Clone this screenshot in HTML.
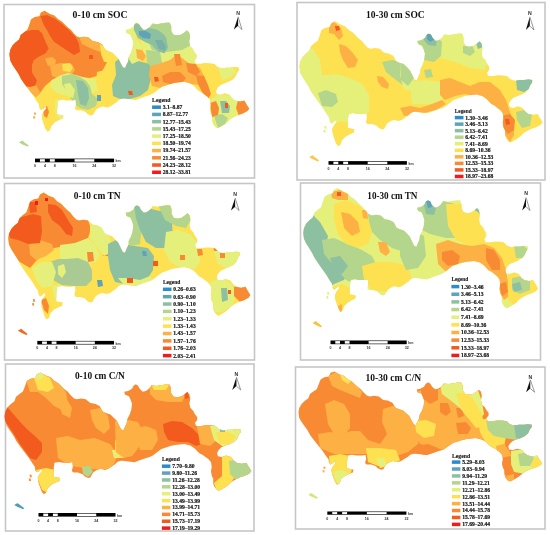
<!DOCTYPE html>
<html><head><meta charset="utf-8"><style>
html,body{margin:0;padding:0;background:#fff;width:550px;height:535px;overflow:hidden}
svg{display:block;filter:blur(0.55px)}
.t{font-family:"Liberation Serif",serif;font-weight:bold;font-size:9.6px;fill:#111}
.lg{font-family:"Liberation Serif",serif;font-weight:bold;font-size:5.8px;fill:#1a1a1a;stroke:#1a1a1a;stroke-width:0.1px}
.lb{font-family:"Liberation Serif",serif;font-weight:bold;font-size:5.6px;fill:#151515;stroke:#151515;stroke-width:0.18px}
.n{font-family:"Liberation Sans",sans-serif;font-weight:bold;font-size:5.2px;fill:#333}
.sl{font-family:"Liberation Sans",sans-serif;font-weight:bold;font-size:3.6px;fill:#333}
</style></head><body>
<svg width="550" height="535" viewBox="0 0 550 535">
<defs><clipPath id="c0"><polygon points="44.6,10.7 46.1,11.7 49.9,14.0 54.3,15.5 58.1,19.2 61.8,21.4 64.8,24.4 67.8,27.4 70.8,29.7 73.8,33.4 76.8,36.4 79.5,37.4 84.0,36.7 88.5,37.4 92.9,41.2 97.4,41.9 101.9,44.2 104.9,49.4 107.9,50.9 112.4,52.4 115.4,55.4 118.4,58.4 120.6,62.9 122.9,67.3 125.1,68.1 126.6,64.3 128.1,61.4 128.8,56.9 131.1,52.4 132.6,47.9 133.3,41.9 131.8,37.4 130.3,34.4 126.6,32.9 125.8,30.0 129.6,29.2 133.3,27.0 134.8,24.0 137.0,22.5 139.3,24.0 140.8,27.0 143.8,30.0 146.8,29.2 149.8,27.0 152.5,23.5 157.0,24.2 161.4,23.5 165.9,22.7 169.7,22.7 171.2,26.4 171.2,30.9 173.4,34.7 177.1,35.4 180.9,34.7 184.6,32.4 186.9,30.2 189.1,32.4 189.9,36.9 189.1,41.4 189.9,45.9 192.9,48.9 194.3,51.9 196.6,54.9 196.6,57.9 194.3,60.8 195.8,63.8 200.3,63.8 204.8,63.1 210.0,63.2 214.5,64.0 217.4,67.0 221.9,68.5 226.4,67.7 230.9,67.7 235.4,67.0 239.1,67.7 239.1,70.0 236.9,73.0 235.4,76.7 232.4,79.7 227.9,82.0 224.2,83.4 220.4,84.9 217.4,87.9 216.0,90.9 216.7,93.9 220.4,94.7 224.9,93.2 229.4,94.7 232.4,98.4 235.4,100.6 239.9,101.4 244.4,100.6 246.6,104.4 249.3,108.7 247.4,111.1 242.9,113.4 238.4,114.9 233.9,117.1 230.2,119.3 227.2,122.3 224.2,124.6 220.4,126.8 217.4,128.3 215.2,126.8 213.0,123.8 212.2,120.8 212.2,116.3 210.7,113.4 210.0,108.9 210.7,104.4 210.0,99.9 207.7,96.9 204.7,94.7 201.7,92.4 198.7,90.9 196.5,88.7 194.3,86.3 189.9,83.3 183.9,81.8 175.0,82.8 170.6,83.9 166.3,85.4 161.9,86.8 159.0,89.0 156.1,91.2 153.2,93.4 150.3,94.8 145.9,96.3 141.5,97.7 135.7,99.9 129.9,99.2 124.1,98.5 121.3,98.7 119.1,99.8 116.9,102.0 113.6,104.2 110.4,106.4 107.1,107.5 102.7,106.4 99.5,107.5 96.2,109.6 94.0,112.9 92.9,115.1 90.7,115.6 87.5,114.0 85.3,111.8 80.9,110.2 76.5,110.2 74.9,108.5 76.0,104.2 75.5,99.8 72.4,100.5 66.5,100.5 62.2,99.7 58.1,100.5 57.5,104.1 57.1,109.9 57.1,114.3 60.7,115.0 63.6,115.7 62.9,118.6 59.3,120.1 54.9,122.3 51.3,125.9 49.8,130.3 47.6,131.7 45.5,128.8 44.0,124.5 42.5,120.1 41.8,115.7 43.3,112.1 46.2,108.5 45.5,106.3 43.3,108.5 41.1,109.9 39.6,108.5 38.9,104.1 36.7,101.2 33.1,95.4 28.7,89.5 24.4,83.7 21.0,78.8 18.5,73.8 15.5,69.3 12.5,64.8 10.2,60.3 9.5,54.3 10.2,49.9 12.5,45.4 15.5,42.4 19.2,39.4 20.7,34.9 24.4,31.9 27.4,29.7 28.9,25.9 30.4,21.4 31.2,19.2 34.9,17.0 39.4,16.2 40.9,12.5"/></clipPath><clipPath id="c1"><polygon points="335.1,21.2 336.6,22.2 340.5,24.6 344.9,26.2 348.8,30.0 352.5,32.2 355.6,35.3 358.6,38.4 361.7,40.8 364.7,44.6 367.8,47.7 370.5,48.8 375.1,48.0 379.6,48.8 384.1,52.7 388.6,53.4 393.2,55.8 396.2,61.1 399.3,62.7 403.8,64.2 406.9,67.3 409.9,70.4 412.2,75.1 414.5,79.6 416.7,80.4 418.2,76.5 419.8,73.5 420.5,68.9 422.8,64.2 424.3,59.6 425.0,53.4 423.5,48.8 422.0,45.7 418.2,44.1 417.4,41.1 421.3,40.3 425.0,38.0 426.6,34.9 428.8,33.4 431.1,34.9 432.6,38.0 435.7,41.1 438.7,40.3 441.8,38.0 444.5,34.4 449.1,35.1 453.5,34.4 458.1,33.6 462.0,33.6 463.5,37.4 463.5,42.0 465.7,46.0 469.5,46.7 473.3,46.0 477.1,43.6 479.4,41.3 481.6,43.6 482.4,48.2 481.6,52.9 482.4,57.5 485.5,60.6 486.9,63.7 489.2,66.8 489.2,69.9 486.9,72.9 488.4,76.0 493.0,76.0 497.5,75.3 502.8,75.4 507.4,76.2 510.3,79.3 514.9,80.8 519.4,80.0 524.0,80.0 528.6,79.3 532.3,80.0 532.3,82.4 530.1,85.5 528.6,89.3 525.5,92.4 521.0,94.8 517.2,96.2 513.4,97.8 510.3,100.9 508.9,104.0 509.6,107.1 513.4,107.9 517.9,106.3 522.5,107.9 525.5,111.7 528.6,114.0 533.1,114.8 537.7,114.0 539.9,117.9 542.7,122.3 540.7,124.8 536.2,127.2 531.6,128.7 527.1,131.0 523.3,133.3 520.3,136.4 517.2,138.7 513.4,141.0 510.3,142.6 508.1,141.0 505.9,137.9 505.0,134.8 505.0,130.2 503.5,127.2 502.8,122.5 503.5,117.9 502.8,113.3 500.5,110.2 497.4,107.9 494.4,105.5 491.4,104.0 489.1,101.7 486.9,99.2 482.4,96.1 476.4,94.6 467.3,95.6 462.9,96.7 458.5,98.3 454.0,99.7 451.1,102.0 448.2,104.3 445.2,106.5 442.3,108.0 437.8,109.5 433.4,111.0 427.5,113.3 421.6,112.5 415.7,111.8 412.9,112.0 410.6,113.2 408.4,115.4 405.1,117.7 401.8,120.0 398.5,121.1 394.0,120.0 390.8,121.1 387.4,123.3 385.2,126.7 384.1,128.9 381.8,129.5 378.6,127.8 376.4,125.5 371.9,123.9 367.4,123.9 365.8,122.1 366.9,117.7 366.4,113.2 363.3,113.9 357.3,113.9 352.9,113.0 348.8,113.9 348.2,117.6 347.8,123.6 347.8,128.1 351.4,128.8 354.4,129.6 353.7,132.6 350.0,134.1 345.5,136.4 341.9,140.1 340.4,144.6 338.1,146.1 336.0,143.1 334.5,138.6 333.0,134.1 332.3,129.6 333.8,125.8 336.7,122.1 336.0,119.9 333.8,122.1 331.6,123.6 330.0,122.1 329.3,117.6 327.1,114.6 323.4,108.6 319.0,102.5 314.6,96.5 311.2,91.5 308.6,86.3 305.6,81.7 302.6,77.0 300.2,72.4 299.5,66.2 300.2,61.7 302.6,57.0 305.6,53.9 309.3,50.8 310.9,46.2 314.6,43.1 317.7,40.8 319.2,36.9 320.7,32.2 321.5,30.0 325.3,27.7 329.8,26.9 331.3,23.1"/></clipPath><clipPath id="c2"><polygon points="43.7,192.6 45.2,193.6 49.1,196.1 53.5,197.6 57.3,201.5 61.1,203.8 64.1,207.0 67.1,210.1 70.2,212.5 73.2,216.4 76.2,219.5 78.9,220.6 83.5,219.8 88.0,220.6 92.5,224.6 97.0,225.3 101.6,227.7 104.6,233.2 107.6,234.7 112.2,236.3 115.2,239.4 118.2,242.6 120.5,247.3 122.8,251.9 125.0,252.8 126.5,248.8 128.0,245.7 128.7,241.0 131.1,236.3 132.6,231.6 133.3,225.3 131.8,220.6 130.3,217.4 126.5,215.9 125.7,212.8 129.6,212.0 133.3,209.7 134.8,206.5 137.0,205.0 139.3,206.5 140.9,209.7 143.9,212.8 146.9,212.0 150.0,209.7 152.7,206.0 157.2,206.7 161.7,206.0 166.2,205.2 170.1,205.2 171.6,209.1 171.6,213.8 173.8,217.8 177.5,218.5 181.4,217.8 185.1,215.3 187.4,213.0 189.6,215.3 190.5,220.1 189.6,224.8 190.5,229.5 193.5,232.6 194.9,235.8 197.2,238.9 197.2,242.1 194.9,245.1 196.4,248.2 201.0,248.2 205.5,247.5 210.8,247.6 215.3,248.5 218.2,251.6 222.8,253.2 227.3,252.3 231.9,252.3 236.4,251.6 240.1,252.3 240.1,254.7 237.9,257.9 236.4,261.8 233.4,264.9 228.8,267.3 225.1,268.8 221.3,270.4 218.2,273.5 216.8,276.6 217.5,279.8 221.3,280.6 225.8,279.1 230.3,280.6 233.4,284.5 236.4,286.8 241.0,287.7 245.5,286.8 247.7,290.8 250.4,295.3 248.5,297.8 244.0,300.2 239.4,301.8 234.9,304.1 231.2,306.4 228.1,309.6 225.1,312.0 221.3,314.3 218.2,315.8 216.0,314.3 213.8,311.1 213.0,308.0 213.0,303.3 211.5,300.2 210.8,295.5 211.5,290.8 210.8,286.1 208.4,282.9 205.4,280.6 202.4,278.2 199.3,276.6 197.1,274.3 194.9,271.8 190.5,268.7 184.4,267.1 175.4,268.2 171.0,269.3 166.6,270.9 162.2,272.4 159.2,274.7 156.3,277.0 153.4,279.3 150.5,280.7 146.0,282.3 141.6,283.8 135.7,286.1 129.9,285.3 124.0,284.6 121.2,284.8 118.9,286.0 116.7,288.3 113.4,290.6 110.2,292.9 106.8,294.0 102.4,292.9 99.1,294.0 95.8,296.2 93.6,299.7 92.5,302.0 90.3,302.5 87.0,300.9 84.8,298.6 80.4,296.9 75.9,296.9 74.3,295.1 75.4,290.6 74.9,286.0 71.8,286.7 65.8,286.7 61.5,285.9 57.3,286.7 56.7,290.5 56.3,296.6 56.3,301.2 60.0,301.9 62.9,302.6 62.2,305.7 58.5,307.3 54.1,309.6 50.5,313.3 49.0,317.9 46.7,319.4 44.6,316.4 43.1,311.9 41.6,307.3 40.9,302.6 42.4,298.9 45.3,295.1 44.6,292.8 42.4,295.1 40.2,296.6 38.7,295.1 37.9,290.5 35.7,287.4 32.1,281.4 27.6,275.2 23.3,269.1 19.9,264.0 17.3,258.7 14.3,254.0 11.3,249.3 9.0,244.6 8.2,238.3 9.0,233.7 11.3,229.0 14.3,225.8 18.0,222.7 19.6,218.0 23.3,214.8 26.3,212.5 27.8,208.5 29.4,203.8 30.2,201.5 33.9,199.2 38.4,198.4 40.0,194.5"/></clipPath><clipPath id="c3"><polygon points="337.6,188.0 339.1,189.0 342.8,191.4 347.1,192.9 350.8,196.7 354.4,199.0 357.4,202.0 360.3,205.1 363.2,207.5 366.2,211.3 369.1,214.3 371.8,215.4 376.2,214.7 380.6,215.4 384.9,219.3 389.3,220.0 393.7,222.3 396.6,227.7 399.6,229.2 404.0,230.7 406.9,233.8 409.9,236.9 412.0,241.5 414.3,246.0 416.4,246.8 417.9,242.9 419.3,240.0 420.0,235.4 422.3,230.7 423.8,226.1 424.4,220.0 423.0,215.4 421.5,212.3 417.9,210.8 417.1,207.8 420.8,207.0 424.4,204.7 425.9,201.6 428.1,200.1 430.3,201.6 431.8,204.7 434.7,207.8 437.7,207.0 440.6,204.7 443.2,201.1 447.6,201.8 451.9,201.1 456.4,200.3 460.1,200.3 461.5,204.1 461.5,208.7 463.7,212.6 467.3,213.3 471.0,212.6 474.7,210.2 476.9,208.0 479.1,210.2 479.8,214.9 479.1,219.5 479.8,224.1 482.8,227.2 484.2,230.2 486.4,233.3 486.4,236.4 484.2,239.4 485.6,242.4 490.0,242.4 494.4,241.7 499.5,241.8 503.9,242.6 506.8,245.7 511.2,247.2 515.6,246.4 520.0,246.4 524.4,245.7 528.0,246.4 528.0,248.8 525.9,251.9 524.4,255.6 521.5,258.7 517.1,261.1 513.4,262.5 509.7,264.1 506.8,267.1 505.4,270.2 506.1,273.3 509.7,274.1 514.1,272.6 518.5,274.1 521.5,277.9 524.4,280.1 528.8,281.0 533.2,280.1 535.4,284.0 538.0,288.4 536.1,290.9 531.7,293.3 527.3,294.8 522.9,297.1 519.3,299.3 516.4,302.4 513.4,304.7 509.7,307.0 506.8,308.5 504.6,307.0 502.5,303.9 501.7,300.9 501.7,296.2 500.2,293.3 499.5,288.7 500.2,284.0 499.5,279.4 497.3,276.4 494.3,274.1 491.4,271.7 488.5,270.2 486.3,267.9 484.2,265.5 479.8,262.4 474.0,260.9 465.3,261.9 461.0,263.0 456.7,264.6 452.4,266.0 449.6,268.3 446.8,270.5 443.9,272.8 441.1,274.2 436.8,275.7 432.5,277.2 426.8,279.4 421.1,278.7 415.4,278.0 412.7,278.2 410.5,279.3 408.4,281.6 405.2,283.8 402.0,286.1 398.8,287.2 394.5,286.1 391.3,287.2 388.1,289.4 386.0,292.8 384.9,295.0 382.7,295.5 379.6,293.9 377.4,291.6 373.1,290.0 368.8,290.0 367.3,288.2 368.3,283.8 367.9,279.3 364.8,280.0 359.0,280.0 354.8,279.2 350.8,280.0 350.2,283.7 349.8,289.7 349.8,294.2 353.4,294.9 356.2,295.6 355.5,298.6 352.0,300.1 347.7,302.4 344.2,306.1 342.7,310.6 340.5,312.0 338.5,309.1 337.0,304.6 335.5,300.1 334.9,295.6 336.3,291.9 339.2,288.2 338.5,286.0 336.3,288.2 334.2,289.7 332.7,288.2 332.0,283.7 329.9,280.8 326.3,274.8 322.0,268.8 317.8,262.8 314.5,257.8 312.0,252.7 309.1,248.1 306.2,243.5 303.9,238.8 303.2,232.7 303.9,228.2 306.2,223.6 309.1,220.5 312.7,217.4 314.2,212.8 317.8,209.7 320.8,207.5 322.2,203.6 323.7,199.0 324.5,196.7 328.1,194.5 332.5,193.6 334.0,189.8"/></clipPath><clipPath id="c4"><polygon points="40.6,372.4 42.1,373.4 46.1,375.7 50.6,377.2 54.5,381.0 58.3,383.2 61.4,386.2 64.5,389.2 67.6,391.5 70.7,395.3 73.8,398.3 76.5,399.3 81.2,398.6 85.8,399.3 90.3,403.1 95.0,403.8 99.6,406.1 102.7,411.4 105.8,412.9 110.4,414.4 113.5,417.4 116.6,420.4 118.9,425.0 121.2,429.4 123.5,430.2 125.1,426.4 126.6,423.5 127.3,418.9 129.7,414.4 131.2,409.9 132.0,403.8 130.4,399.3 128.9,396.3 125.1,394.8 124.2,391.8 128.2,391.0 132.0,388.8 133.5,385.8 135.8,384.3 138.1,385.8 139.7,388.8 142.8,391.8 145.9,391.0 149.0,388.8 151.7,385.3 156.4,386.0 160.9,385.3 165.5,384.5 169.5,384.5 171.0,388.2 171.0,392.7 173.3,396.6 177.1,397.3 181.0,396.6 184.8,394.3 187.2,392.0 189.4,394.3 190.3,398.8 189.4,403.3 190.3,407.8 193.3,410.9 194.8,413.9 197.2,416.9 197.2,419.9 194.8,422.9 196.3,425.9 201.0,425.9 205.6,425.2 211.0,425.3 215.6,426.1 218.6,429.1 223.2,430.6 227.9,429.8 232.5,429.8 237.1,429.1 240.9,429.8 240.9,432.1 238.7,435.1 237.1,438.9 234.0,441.9 229.4,444.2 225.6,445.6 221.7,447.1 218.6,450.1 217.1,453.2 217.9,456.2 221.7,457.0 226.3,455.5 230.9,457.0 234.0,460.7 237.1,462.9 241.8,463.7 246.4,462.9 248.7,466.8 251.4,471.1 249.5,473.5 244.8,475.8 240.2,477.3 235.6,479.5 231.8,481.8 228.7,484.8 225.6,487.1 221.7,489.3 218.6,490.8 216.3,489.3 214.1,486.3 213.2,483.3 213.2,478.7 211.7,475.8 211.0,471.3 211.7,466.8 211.0,462.2 208.6,459.2 205.5,457.0 202.4,454.7 199.3,453.2 197.1,450.9 194.8,448.5 190.3,445.5 184.1,444.0 174.9,445.0 170.4,446.1 166.0,447.6 161.4,449.0 158.4,451.2 155.4,453.5 152.5,455.7 149.5,457.1 144.9,458.6 140.4,460.0 134.4,462.2 128.5,461.5 122.5,460.8 119.6,461.0 117.3,462.1 115.1,464.3 111.7,466.6 108.4,468.8 105.0,469.9 100.4,468.8 97.1,469.9 93.7,472.0 91.5,475.3 90.3,477.5 88.1,478.0 84.8,476.4 82.5,474.2 78.0,472.6 73.5,472.6 71.8,470.9 72.9,466.6 72.4,462.1 69.2,462.8 63.2,462.8 58.7,462.0 54.5,462.8 53.9,466.5 53.5,472.3 53.5,476.7 57.2,477.4 60.2,478.1 59.4,481.1 55.7,482.6 51.2,484.8 47.5,488.4 46.0,492.8 43.7,494.2 41.5,491.3 40.0,487.0 38.4,482.6 37.7,478.1 39.3,474.5 42.2,470.9 41.5,468.7 39.3,470.9 37.0,472.3 35.5,470.9 34.7,466.5 32.5,463.5 28.8,457.7 24.2,451.8 19.8,445.9 16.3,441.0 13.7,435.9 10.6,431.4 7.5,426.9 5.2,422.3 4.4,416.3 5.2,411.9 7.5,407.3 10.6,404.3 14.4,401.3 16.0,396.8 19.8,393.7 22.9,391.5 24.4,387.7 26.0,383.2 26.8,381.0 30.6,378.7 35.2,377.9 36.8,374.2"/></clipPath><clipPath id="c5"><polygon points="334.2,371.4 335.7,372.3 339.6,374.5 344.1,375.9 347.9,379.4 351.7,381.4 354.7,384.2 357.8,387.0 360.8,389.2 363.9,392.7 366.9,395.5 369.7,396.4 374.2,395.8 378.8,396.4 383.3,400.0 387.8,400.6 392.4,402.8 395.5,407.7 398.5,409.1 403.1,410.5 406.1,413.3 409.2,416.1 411.4,420.3 413.8,424.4 416.0,425.2 417.5,421.6 419.0,418.9 419.7,414.7 422.1,410.5 423.6,406.3 424.3,400.6 422.8,396.4 421.3,393.6 417.5,392.2 416.7,389.5 420.6,388.7 424.3,386.7 425.8,383.9 428.1,382.5 430.4,383.9 431.9,386.7 435.0,389.5 438.0,388.7 441.1,386.7 443.8,383.4 448.4,384.0 452.9,383.4 457.4,382.6 461.3,382.6 462.8,386.1 462.8,390.3 465.1,393.9 468.8,394.5 472.7,393.9 476.4,391.7 478.8,389.7 481.0,391.7 481.8,395.9 481.0,400.2 481.8,404.4 484.9,407.2 486.3,410.0 488.6,412.8 488.6,415.6 486.3,418.3 487.8,421.2 492.4,421.2 497.0,420.5 502.2,420.6 506.8,421.3 509.8,424.2 514.3,425.6 518.9,424.8 523.5,424.8 528.1,424.2 531.8,424.8 531.8,427.0 529.6,429.8 528.1,433.2 525.0,436.1 520.4,438.2 516.7,439.5 512.8,440.9 509.8,443.7 508.3,446.5 509.1,449.4 512.8,450.1 517.4,448.7 522.0,450.1 525.0,453.6 528.1,455.6 532.6,456.4 537.2,455.6 539.4,459.2 542.2,463.2 540.2,465.5 535.7,467.6 531.1,469.0 526.5,471.1 522.8,473.2 519.7,476.0 516.7,478.1 512.8,480.2 509.8,481.6 507.5,480.2 505.3,477.4 504.5,474.6 504.5,470.3 503.0,467.6 502.2,463.4 503.0,459.2 502.2,455.0 499.9,452.2 496.9,450.1 493.8,448.0 490.8,446.5 488.5,444.5 486.3,442.2 481.8,439.4 475.7,438.0 466.7,439.0 462.2,440.0 457.8,441.4 453.4,442.7 450.4,444.8 447.5,446.8 444.5,448.9 441.6,450.2 437.1,451.6 432.7,452.9 426.8,455.0 420.9,454.3 415.0,453.7 412.1,453.9 409.9,454.9 407.7,456.9 404.3,459.0 401.1,461.1 397.7,462.1 393.2,461.1 390.0,462.1 386.6,464.1 384.4,467.2 383.3,469.2 381.0,469.7 377.8,468.2 375.6,466.1 371.1,464.6 366.6,464.6 365.0,463.0 366.1,459.0 365.6,454.9 362.4,455.5 356.5,455.5 352.1,454.8 347.9,455.5 347.3,458.9 346.9,464.4 346.9,468.5 350.6,469.1 353.5,469.8 352.8,472.5 349.1,473.9 344.7,476.0 341.0,479.3 339.5,483.5 337.2,484.8 335.1,482.1 333.6,478.0 332.1,473.9 331.4,469.8 332.9,466.4 335.8,463.0 335.1,461.0 332.9,463.0 330.6,464.4 329.1,463.0 328.4,458.9 326.2,456.2 322.5,450.8 318.0,445.2 313.7,439.8 310.2,435.2 307.7,430.5 304.6,426.3 301.6,422.1 299.2,417.9 298.5,412.3 299.2,408.1 301.6,403.9 304.6,401.1 308.4,398.3 309.9,394.1 313.7,391.3 316.7,389.2 318.2,385.6 319.8,381.4 320.6,379.4 324.3,377.3 328.9,376.6 330.4,373.1"/></clipPath></defs>
<rect x="4" y="4.5" width="250.5" height="173.5" fill="#fff" stroke="#c6c6c6" stroke-width="1.6"/>
<g clip-path="url(#c0)">
<rect x="4" y="4.5" width="250.5" height="173.5" fill="#fee150"/>
<polygon points="5.0,50.0 10.0,40.0 20.0,30.0 30.0,15.0 44.0,5.0 60.0,15.0 80.0,33.0 100.0,40.0 107.0,50.0 109.0,58.0 105.0,66.0 100.0,75.0 90.0,78.0 80.0,77.0 70.0,74.0 60.0,76.0 52.0,80.0 45.0,86.0 40.0,93.0 36.0,97.0 25.0,85.0 10.0,70.0" fill="#f98a34"/>
<polygon points="45.0,58.5 52.0,57.0 56.0,60.0 55.0,65.0 48.0,66.0" fill="#fdb044"/>
<polygon points="50.0,66.0 60.0,63.0 72.0,64.0 75.0,70.0 70.0,77.0 60.0,79.0 52.0,76.0" fill="#fdb044"/>
<polygon points="62.0,64.0 70.0,63.0 73.0,68.0 70.0,72.0 63.0,71.0" fill="#fee150"/>
<polygon points="78.0,34.0 90.0,36.0 100.0,41.0 104.0,48.0 100.0,52.0 90.0,48.0 82.0,44.0" fill="#fdb044"/>
<polygon points="23.0,83.0 30.0,80.0 36.0,85.0 40.0,92.0 36.0,97.0 30.0,92.0" fill="#fdb044"/>
<polygon points="5.0,48.0 10.0,46.7 15.1,41.6 20.1,34.9 25.2,31.6 31.9,29.9 38.6,29.9 42.0,33.2 45.4,41.6 48.7,48.4 45.4,53.4 38.6,56.8 33.6,60.2 31.9,65.2 31.9,71.9 33.6,75.3 37.0,80.3 35.3,85.4 30.2,87.1 24.0,86.0 15.0,75.0 6.0,62.0" fill="#f25a1e"/>
<polygon points="40.3,16.0 47.0,15.0 55.5,19.0 62.2,24.0 68.9,30.0 75.7,37.0 79.0,44.0 80.0,51.7 74.0,55.1 68.9,51.7 63.9,48.4 58.8,45.0 53.8,41.6 50.4,36.6 47.0,29.9 43.7,24.8" fill="#f25a1e"/>
<polygon points="100.0,44.0 108.0,49.0 112.0,56.0 110.0,62.0 104.0,62.0 101.0,54.0" fill="#fee150"/>
<polygon points="52.0,80.0 60.0,75.5 68.0,73.0 76.0,75.0 86.0,78.0 95.0,79.0 100.0,75.0 104.0,80.0 100.0,90.0 88.0,95.0 75.0,96.0 62.0,95.0 55.0,92.0 50.0,86.0" fill="#e5f07a"/>
<polygon points="62.0,76.0 72.0,74.0 80.0,77.0 86.0,81.0 90.0,86.0 92.0,94.0 98.0,99.0 96.0,106.0 88.0,110.0 80.0,108.0 74.0,104.0 70.0,97.0 66.0,90.0 62.0,84.0" fill="#b3d68c"/>
<polygon points="64.0,84.0 70.0,83.0 75.0,90.0 73.0,98.0 67.0,96.0" fill="#e5f07a"/>
<polygon points="76.0,80.0 83.0,81.0 88.0,88.0 89.0,98.0 86.0,106.0 80.0,104.0 78.0,94.0" fill="#8dc0a0"/>
<polygon points="97.0,95.0 101.0,95.0 101.0,101.0 97.0,101.0" fill="#5fa3b8"/>
<polygon points="97.0,72.0 105.0,70.0 112.0,75.0 115.0,85.0 112.0,96.0 105.0,99.0 98.0,92.0 96.0,82.0" fill="#fee150"/>
<polygon points="38.0,96.0 46.0,94.0 55.0,96.0 62.0,98.0 64.0,105.0 58.0,110.0 56.0,118.0 50.0,132.0 44.0,128.0 40.0,112.0" fill="#fee150"/>
<polygon points="55.0,100.0 64.0,99.0 66.0,114.0 60.0,120.0 55.0,112.0" fill="#e5f07a"/>
<polygon points="43.0,108.0 47.0,106.0 49.0,112.0 47.0,118.0 44.0,116.0" fill="#f98a34"/>
<polygon points="115.0,62.0 120.0,58.0 128.0,56.0 135.0,60.0 142.0,62.0 150.0,64.0 152.0,72.0 150.0,82.0 148.0,90.0 140.0,96.0 130.0,99.0 120.0,99.0 113.0,96.0 112.0,85.0 116.0,75.0" fill="#8dc0a0"/>
<polygon points="140.0,40.0 160.0,40.0 175.0,44.0 192.0,44.0 197.0,55.0 196.0,64.0 185.0,63.0 170.0,61.0 155.0,60.0 145.0,56.0" fill="#e5f07a"/>
<polygon points="148.0,20.0 170.0,20.0 190.0,28.0 193.0,44.0 182.0,50.0 166.0,52.0 152.0,50.0 146.0,36.0" fill="#b3d68c"/>
<polygon points="124.0,30.0 132.0,27.0 137.0,32.0 136.0,40.0 130.0,42.0 125.0,36.0" fill="#e5f07a"/>
<polygon points="134.0,22.0 142.0,26.0 150.0,28.0 158.0,30.0 166.0,36.0 168.0,48.0 164.0,54.0 158.0,52.0 152.0,45.0 145.0,42.0 138.0,38.0 134.0,30.0" fill="#8dc0a0"/>
<polygon points="139.0,31.0 146.0,31.0 151.0,34.0 150.0,39.0 143.0,38.0 139.0,35.0" fill="#5fa3b8"/>
<polygon points="155.0,40.0 162.0,40.0 166.0,46.0 165.0,51.0 159.0,49.0" fill="#79b0a6"/>
<polygon points="158.0,22.0 170.0,22.0 180.0,30.0 190.0,32.0 192.0,44.0 185.0,47.0 175.0,46.0 168.0,40.0 162.0,32.0" fill="#b3d68c"/>
<polygon points="128.0,36.0 136.0,38.0 142.0,46.0 141.0,60.0 132.0,64.0 127.0,56.0" fill="#e5f07a"/>
<polygon points="136.0,49.0 142.0,50.0 146.0,56.0 143.0,61.0 137.0,58.0" fill="#fdb044"/>
<polygon points="146.0,50.0 158.0,51.0 164.0,56.0 162.0,66.0 152.0,68.0 147.0,62.0" fill="#b3d68c"/>
<polygon points="160.0,52.0 172.0,56.0 172.0,66.0 163.0,68.0" fill="#e5f07a"/>
<polygon points="150.0,66.0 158.0,64.0 170.0,60.0 176.0,55.0 182.0,58.0 190.0,64.0 200.0,68.0 205.0,78.0 200.0,85.0 190.0,84.0 180.0,82.0 170.0,84.0 160.0,88.0 152.0,86.0 149.0,76.0" fill="#fdb044"/>
<polygon points="174.0,54.0 180.0,54.0 182.0,65.0 176.0,66.0" fill="#f98a34"/>
<polygon points="186.0,63.0 196.0,64.0 200.0,72.0 196.0,76.0 188.0,72.0" fill="#f98a34"/>
<polygon points="196.0,75.0 204.0,76.0 208.0,85.0 211.0,94.0 208.0,99.0 202.0,92.0 198.0,84.0" fill="#f98a34"/>
<polygon points="162.0,76.0 170.0,72.0 180.0,72.0 186.0,78.0 182.0,83.0 170.0,84.0 163.0,82.0" fill="#f98a34"/>
<polygon points="203.0,64.0 215.0,64.0 225.0,67.0 238.0,67.0 238.0,72.0 232.0,80.0 222.0,84.0 216.0,88.0 212.0,82.0 206.0,74.0" fill="#fee150"/>
<polygon points="218.0,68.0 232.0,67.0 236.0,72.0 230.0,78.0 222.0,80.0" fill="#e5f07a"/>
<polygon points="210.0,100.0 220.0,94.0 230.0,96.0 240.0,102.0 240.0,112.0 232.0,118.0 224.0,126.0 216.0,128.0 212.0,118.0" fill="#e5f07a"/>
<polygon points="210.0,103.0 216.0,101.0 219.0,108.0 218.0,116.0 212.0,117.0" fill="#f98a34"/>
<polygon points="220.0,101.0 226.0,101.0 230.0,106.0 229.0,113.0 222.0,113.0" fill="#8dc0a0"/>
<polygon points="238.0,100.0 244.0,100.0 248.0,104.0 250.0,108.0 246.0,114.0 239.0,116.0 236.0,108.0" fill="#f98a34"/>
<polygon points="214.0,116.0 222.0,114.0 228.0,118.0 224.0,126.0 218.0,128.0" fill="#b3d68c"/>
<polygon points="154.0,77.0 158.0,77.0 159.0,81.0 155.0,82.0" fill="#f25a1e"/>
<polygon points="128.0,91.0 132.0,91.0 133.0,95.0 129.0,95.0" fill="#f25a1e"/>
<polygon points="89.0,55.0 93.0,55.0 93.0,59.0 89.0,59.0" fill="#f25a1e"/>
<polygon points="225.0,103.0 228.0,103.0 228.0,108.0 225.0,108.0" fill="#f25a1e"/>
</g>
<polygon points="19.0,142.3 21.5,141.0 22.5,140.6 24.0,142.0 26.0,143.5 28.8,145.6 27.5,146.6 25.0,145.5 22.0,144.2" fill="#b3d68c"/>
<polygon points="33.8,112.4 35.6,112.2 36.2,114.6 34.4,115.0" fill="#fdb044"/>
<polygon points="33.0,116.2 34.8,116.0 35.3,118.4 33.5,118.7" fill="#fdb044"/>
<text x="72.6" y="18.1" textLength="55" lengthAdjust="spacingAndGlyphs" class="t">0-10 cm SOC</text>
<text x="238.1" y="14.6" class="n" text-anchor="middle">N</text>
<polygon points="238.1,16.8 233.9,29.6 238.1,25.76" fill="#111"/>
<polyline points="238.1,16.8 242,29.6 238.1,25.76" fill="none" stroke="#555" stroke-width="0.6"/>
<text x="152.1" y="102.2" class="lg" textLength="18.3" lengthAdjust="spacingAndGlyphs">Legend</text>
<rect x="152.1" y="105.45" width="8.9" height="3.5" fill="#2b8ccc"/>
<text x="162.8" y="109.1" class="lb">3.1–8.87</text>
<rect x="152.1" y="112.68" width="8.9" height="3.5" fill="#5fa3b8"/>
<text x="162.8" y="116.33" class="lb">8.87–12.77</text>
<rect x="152.1" y="119.91" width="8.9" height="3.5" fill="#8dc0a0"/>
<text x="162.8" y="123.56" class="lb">12.77–15.43</text>
<rect x="152.1" y="127.14" width="8.9" height="3.5" fill="#b3d68c"/>
<text x="162.8" y="130.79" class="lb">15.43–17.25</text>
<rect x="152.1" y="134.37" width="8.9" height="3.5" fill="#e5f07a"/>
<text x="162.8" y="138.02" class="lb">17.25–18.50</text>
<rect x="152.1" y="141.6" width="8.9" height="3.5" fill="#fee150"/>
<text x="162.8" y="145.25" class="lb">18.50–19.74</text>
<rect x="152.1" y="148.83" width="8.9" height="3.5" fill="#fdb044"/>
<text x="162.8" y="152.48" class="lb">19.74–21.57</text>
<rect x="152.1" y="156.06" width="8.9" height="3.5" fill="#f98a34"/>
<text x="162.8" y="159.71" class="lb">21.56–24.23</text>
<rect x="152.1" y="163.29" width="8.9" height="3.5" fill="#f25a1e"/>
<text x="162.8" y="166.94" class="lb">24.23–28.12</text>
<rect x="152.1" y="170.52" width="8.9" height="3.5" fill="#ee1c1c"/>
<text x="162.8" y="174.17" class="lb">28.12–33.81</text>
<rect x="35" y="158.6" width="79.1" height="3.7" fill="#000"/>
<rect x="39.94" y="159.2" width="4.94" height="2.5" fill="#fff"/>
<rect x="49.83" y="159.2" width="4.94" height="2.5" fill="#fff"/>
<rect x="74.55" y="159.2" width="19.77" height="2.5" fill="#fff"/>
<text x="35" y="167.3" class="sl" text-anchor="middle">0</text>
<text x="44.89" y="167.3" class="sl" text-anchor="middle">4</text>
<text x="54.77" y="167.3" class="sl" text-anchor="middle">8</text>
<text x="74.55" y="167.3" class="sl" text-anchor="middle">16</text>
<text x="94.32" y="167.3" class="sl" text-anchor="middle">24</text>
<text x="114.1" y="167.3" class="sl" text-anchor="middle">32</text>
<text x="115.6" y="162.3" class="sl">km</text>
<rect x="297" y="2.5" width="248" height="177.5" fill="#fff" stroke="#c6c6c6" stroke-width="1.6"/>
<g clip-path="url(#c1)">
<rect x="297" y="2.5" width="248" height="177.5" fill="#fee150"/>
<polygon points="316.0,76.0 336.0,74.0 350.0,78.0 362.0,84.0 369.0,95.0 369.0,113.0 350.0,116.0 336.0,112.0 322.0,102.0" fill="#e5f07a"/>
<polygon points="410.0,82.0 425.0,80.0 440.0,82.0 442.0,100.0 430.0,104.0 412.0,104.0" fill="#e5f07a"/>
<polygon points="400.0,108.0 410.0,106.0 420.0,108.0 432.0,104.0 442.0,100.0 446.0,104.0 436.0,110.0 420.0,114.0 404.0,116.0" fill="#fdb044"/>
<polygon points="297.0,45.0 305.0,45.0 314.0,50.0 320.0,60.0 322.0,75.0 320.0,90.0 330.0,100.0 345.0,95.0 358.0,100.0 360.0,112.0 352.0,125.0 350.0,145.0 340.0,150.0 330.0,140.0 322.0,120.0 310.0,100.0 300.0,80.0" fill="#e5f07a"/>
<polygon points="318.0,93.0 326.0,90.0 336.0,94.0 338.0,102.0 332.0,107.0 322.0,106.0" fill="#b3d68c"/>
<polygon points="330.0,124.0 342.0,121.0 357.0,125.0 357.0,134.0 346.0,140.0 340.0,150.0 333.0,140.0" fill="#fee150"/>
<polygon points="329.0,25.0 334.0,22.0 341.0,28.0 343.0,36.0 339.0,40.0 334.0,34.0 329.0,33.0" fill="#fdb044"/>
<polygon points="339.0,44.0 346.0,46.0 352.0,52.0 358.0,60.0 355.0,67.0 348.0,68.0 343.0,60.0 340.0,52.0" fill="#fdb044"/>
<polygon points="335.0,26.0 339.0,26.0 340.0,30.0 336.0,31.0" fill="#f25a1e"/>
<polygon points="377.0,76.0 383.0,77.0 389.0,84.0 388.0,89.0 382.0,87.0 378.0,82.0" fill="#fdb044"/>
<polygon points="382.0,62.0 392.0,60.0 403.0,63.0 410.0,70.0 412.0,80.0 404.0,86.0 396.0,80.0 386.0,72.0" fill="#b3d68c"/>
<polygon points="380.0,40.0 395.0,38.0 410.0,32.0 425.0,30.0 440.0,32.0 460.0,34.0 478.0,40.0 484.0,48.0 487.0,60.0 485.0,70.0 470.0,68.0 455.0,62.0 440.0,58.0 425.0,56.0 410.0,55.0 395.0,52.0 385.0,50.0" fill="#e5f07a"/>
<polygon points="400.0,60.0 413.0,62.0 416.0,75.0 412.0,90.0 404.0,90.0 400.0,75.0" fill="#e5f07a"/>
<polygon points="400.0,62.0 412.0,64.0 414.0,78.0 408.0,86.0 401.0,80.0" fill="#b3d68c"/>
<polygon points="415.0,42.0 423.0,34.0 434.0,34.0 442.0,42.0 441.0,56.0 434.0,62.0 424.0,60.0 417.0,52.0" fill="#b3d68c"/>
<polygon points="423.0,33.0 432.0,31.0 437.0,38.0 436.0,46.0 428.0,45.0 424.0,40.0" fill="#8dc0a0"/>
<polygon points="427.0,34.0 432.0,34.0 434.0,40.0 430.0,42.0 427.0,39.0" fill="#5fa3b8"/>
<polygon points="463.0,46.0 472.0,45.0 475.0,52.0 470.0,56.0 463.0,53.0" fill="#b3d68c"/>
<polygon points="475.0,40.0 481.0,40.0 483.0,47.0 478.0,49.0" fill="#8dc0a0"/>
<polygon points="424.0,70.0 431.0,69.0 433.0,77.0 426.0,78.0" fill="#b3d68c"/>
<polygon points="440.0,80.0 450.0,78.0 460.0,82.0 470.0,86.0 480.0,82.0 490.0,82.0 500.0,90.0 506.0,100.0 510.0,112.0 514.0,125.0 514.0,135.0 510.0,142.0 505.0,135.0 502.0,122.0 497.0,114.0 490.0,108.0 484.0,102.0 476.0,97.0 465.0,94.0 455.0,96.0 445.0,100.0 440.0,95.0" fill="#fdb044"/>
<polygon points="502.0,116.0 510.0,114.0 515.0,120.0 514.0,130.0 508.0,134.0 503.0,128.0" fill="#f98a34"/>
<polygon points="505.0,119.0 509.0,119.0 510.0,124.0 506.0,125.0" fill="#f25a1e"/>
<polygon points="516.0,80.0 526.0,77.0 533.0,79.0 531.0,88.0 524.0,92.0 517.0,90.0" fill="#8dc0a0"/>
<polygon points="516.0,112.0 524.0,110.0 532.0,114.0 530.0,126.0 522.0,128.0 517.0,120.0" fill="#b3d68c"/>
</g>
<polygon points="309.1,157.0 311.7,155.7 312.7,155.3 314.2,156.7 316.2,158.2 319.1,160.4 317.8,161.4 315.2,160.3 312.2,159.0" fill="#fcc848"/>
<polygon points="324.1,126.2 326.0,125.9 326.6,128.4 324.8,128.8" fill="#e5f07a"/>
<polygon points="323.3,130.1 325.2,129.9 325.7,132.3 323.8,132.7" fill="#e5f07a"/>
<text x="366" y="18.4" textLength="58.7" lengthAdjust="spacingAndGlyphs" class="t">10-30 cm SOC</text>
<text x="529.8" y="15" class="n" text-anchor="middle">N</text>
<polygon points="529.8,16.8 525.9,30 529.8,26.04" fill="#111"/>
<polyline points="529.8,16.8 534,30 529.8,26.04" fill="none" stroke="#555" stroke-width="0.6"/>
<text x="454.8" y="112.9" class="lg" textLength="16.8" lengthAdjust="spacingAndGlyphs">Legend</text>
<rect x="454.8" y="115.85" width="8.7" height="3.5" fill="#2b8ccc"/>
<text x="465.3" y="119.5" class="lb">1.30–3.46</text>
<rect x="454.8" y="122.39" width="8.7" height="3.5" fill="#5fa3b8"/>
<text x="465.3" y="126.04" class="lb">3.46–5.13</text>
<rect x="454.8" y="128.93" width="8.7" height="3.5" fill="#8dc0a0"/>
<text x="465.3" y="132.58" class="lb">5.13–6.42</text>
<rect x="454.8" y="135.47" width="8.7" height="3.5" fill="#b3d68c"/>
<text x="465.3" y="139.12" class="lb">6.42–7.41</text>
<rect x="454.8" y="142.01" width="8.7" height="3.5" fill="#e5f07a"/>
<text x="465.3" y="145.66" class="lb">7.41–8.69</text>
<rect x="454.8" y="148.55" width="8.7" height="3.5" fill="#fee150"/>
<text x="465.3" y="152.2" class="lb">8.69–10.36</text>
<rect x="454.8" y="155.09" width="8.7" height="3.5" fill="#fdb044"/>
<text x="465.3" y="158.74" class="lb">10.36–12.53</text>
<rect x="454.8" y="161.63" width="8.7" height="3.5" fill="#f98a34"/>
<text x="465.3" y="165.28" class="lb">12.53–15.33</text>
<rect x="454.8" y="168.17" width="8.7" height="3.5" fill="#f25a1e"/>
<text x="465.3" y="171.82" class="lb">15.33–18.97</text>
<rect x="454.8" y="174.71" width="8.7" height="3.5" fill="#ee1c1c"/>
<text x="465.3" y="178.36" class="lb">18.97–23.68</text>
<rect x="328.5" y="161.1" width="78.4" height="3.6" fill="#000"/>
<rect x="333.4" y="161.7" width="4.9" height="2.4" fill="#fff"/>
<rect x="343.2" y="161.7" width="4.9" height="2.4" fill="#fff"/>
<rect x="367.7" y="161.7" width="19.6" height="2.4" fill="#fff"/>
<text x="328.5" y="169.5" class="sl" text-anchor="middle">0</text>
<text x="338.3" y="169.5" class="sl" text-anchor="middle">4</text>
<text x="348.1" y="169.5" class="sl" text-anchor="middle">8</text>
<text x="367.7" y="169.5" class="sl" text-anchor="middle">16</text>
<text x="387.3" y="169.5" class="sl" text-anchor="middle">24</text>
<text x="406.9" y="169.5" class="sl" text-anchor="middle">32</text>
<text x="408.4" y="164.7" class="sl">km</text>
<rect x="4.5" y="183.5" width="250" height="176.5" fill="#fff" stroke="#c6c6c6" stroke-width="1.6"/>
<g clip-path="url(#c2)">
<rect x="4.5" y="183.5" width="250" height="176.5" fill="#fee150"/>
<polygon points="5.0,230.0 10.0,222.0 20.0,212.0 30.0,196.0 44.0,186.0 60.0,196.0 80.0,213.0 88.0,220.0 91.0,229.0 88.0,238.0 78.0,243.0 66.0,246.0 54.0,248.0 46.0,253.0 37.0,260.0 30.0,268.0 20.0,262.0 8.0,250.0" fill="#f98a34"/>
<polygon points="29.0,242.0 40.0,240.0 52.0,244.0 54.0,250.0 46.0,256.0 36.0,260.0 30.0,255.0" fill="#fdb044"/>
<polygon points="8.0,232.0 14.0,222.0 22.0,217.0 33.0,214.0 41.0,216.0 42.0,232.0 40.0,243.0 28.0,244.0 18.0,240.0 10.0,238.0" fill="#f25a1e"/>
<polygon points="29.0,202.0 36.0,202.0 37.0,212.0 30.0,213.0" fill="#f25a1e"/>
<polygon points="48.0,204.0 56.0,205.0 62.0,210.0 68.0,220.0 73.0,228.0 72.0,236.0 66.0,234.0 60.0,226.0 52.0,220.0 48.0,212.0" fill="#f25a1e"/>
<polygon points="35.0,201.0 38.0,201.0 38.0,205.0 35.0,205.0" fill="#ee1c1c"/>
<polygon points="45.0,198.0 48.0,198.0 48.0,201.0 45.0,201.0" fill="#ee1c1c"/>
<polygon points="60.0,245.0 75.0,243.0 88.0,238.0 95.0,245.0 100.0,255.0 96.0,262.0 85.0,265.0 70.0,262.0 60.0,258.0" fill="#e5f07a"/>
<polygon points="50.0,262.0 58.0,259.0 66.0,259.0 78.0,258.0 88.0,262.0 92.0,270.0 92.0,280.0 86.0,286.0 74.0,286.0 62.0,285.0 53.0,280.0 51.0,272.0" fill="#a9ca93"/>
<polygon points="58.0,266.0 64.0,264.0 66.0,272.0 62.0,278.0 58.0,274.0" fill="#e5f07a"/>
<polygon points="32.0,268.0 42.0,262.0 52.0,262.0 56.0,272.0 52.0,286.0 42.0,288.0 36.0,280.0" fill="#e5f07a"/>
<polygon points="97.0,280.0 102.0,280.0 103.0,286.0 98.0,287.0" fill="#5fa3b8"/>
<polygon points="87.0,252.0 93.0,252.0 94.0,261.0 88.0,262.0" fill="#f98a34"/>
<polygon points="102.0,250.0 109.0,250.0 110.0,256.0 103.0,256.0" fill="#f98a34"/>
<polygon points="90.0,225.0 100.0,226.0 110.0,238.0 112.0,252.0 104.0,256.0 96.0,246.0 90.0,238.0" fill="#e5f07a"/>
<polygon points="41.0,300.0 46.0,298.0 49.0,306.0 48.0,314.0 44.0,310.0" fill="#f98a34"/>
<polygon points="52.0,286.0 60.0,284.0 64.0,292.0 60.0,300.0 54.0,298.0" fill="#e5f07a"/>
<polygon points="108.0,244.0 116.0,240.0 124.0,244.0 135.0,246.0 148.0,248.0 154.0,256.0 153.0,270.0 148.0,278.0 138.0,282.0 125.0,284.0 115.0,282.0 110.0,270.0 108.0,256.0" fill="#8dc0a0"/>
<polygon points="142.0,251.0 146.0,251.0 147.0,256.0 143.0,256.0" fill="#5fa3b8"/>
<polygon points="124.0,212.0 132.0,206.0 140.0,210.0 142.0,226.0 140.0,244.0 130.0,246.0 124.0,232.0" fill="#b3d68c"/>
<polygon points="134.0,205.0 145.0,207.0 155.0,210.0 165.0,212.0 172.0,222.0 173.0,240.0 166.0,248.0 156.0,248.0 146.0,242.0 140.0,230.0 136.0,218.0" fill="#8dc0a0"/>
<polygon points="158.0,205.0 172.0,204.0 188.0,207.0 192.0,218.0 186.0,228.0 176.0,226.0 165.0,220.0" fill="#b3d68c"/>
<polygon points="166.0,232.0 178.0,230.0 190.0,234.0 198.0,244.0 200.0,262.0 194.0,270.0 182.0,268.0 170.0,262.0 164.0,250.0" fill="#e5f07a"/>
<polygon points="118.0,278.0 128.0,278.0 140.0,280.0 150.0,276.0 154.0,282.0 140.0,286.0 125.0,286.0" fill="#e5f07a"/>
<polygon points="212.0,246.0 228.0,248.0 240.0,250.0 242.0,256.0 236.0,264.0 226.0,268.0 218.0,264.0" fill="#e5f07a"/>
<polygon points="197.0,249.0 202.0,249.0 203.0,255.0 198.0,256.0" fill="#f98a34"/>
<polygon points="213.0,246.0 218.0,246.0 219.0,251.0 214.0,251.0" fill="#f98a34"/>
<polygon points="220.0,253.0 225.0,253.0 225.0,258.0 220.0,258.0" fill="#f98a34"/>
<polygon points="153.0,261.0 158.0,261.0 158.0,266.0 153.0,266.0" fill="#f25a1e"/>
<polygon points="127.0,278.0 133.0,278.0 133.0,283.0 127.0,283.0" fill="#f25a1e"/>
<polygon points="180.0,255.0 185.0,255.0 185.0,260.0 180.0,260.0" fill="#f98a34"/>
<polygon points="210.0,282.0 222.0,278.0 232.0,284.0 236.0,296.0 232.0,306.0 222.0,312.0 214.0,312.0 210.0,300.0" fill="#e5f07a"/>
<polygon points="221.0,288.0 227.0,288.0 228.0,300.0 222.0,302.0" fill="#8dc0a0"/>
<polygon points="234.0,287.0 246.0,284.0 252.0,292.0 248.0,300.0 240.0,302.0 234.0,296.0" fill="#f98a34"/>
<polygon points="228.0,290.0 231.0,290.0 231.0,294.0 228.0,294.0" fill="#f25a1e"/>
</g>
<polygon points="17.8,330.5 20.4,329.2 21.4,328.7 22.9,330.2 24.9,331.8 27.7,334.0 26.4,335.0 23.9,333.9 20.9,332.5" fill="#f26a22"/>
<polygon points="32.8,299.2 34.6,299.0 35.2,301.5 33.4,301.9" fill="#f98a34"/>
<polygon points="32.0,303.2 33.8,303.0 34.3,305.5 32.5,305.8" fill="#f98a34"/>
<text x="73.8" y="199" textLength="46.8" lengthAdjust="spacingAndGlyphs" class="t">0-10 cm TN</text>
<text x="235.15" y="195.9" class="n" text-anchor="middle">N</text>
<polygon points="235.15,198.1 230.9,210.5 235.15,206.78" fill="#111"/>
<polyline points="235.15,198.1 239.1,210.5 235.15,206.78" fill="none" stroke="#555" stroke-width="0.6"/>
<text x="162.9" y="284.3" class="lg" textLength="17.5" lengthAdjust="spacingAndGlyphs">Legend</text>
<rect x="162.9" y="287.55" width="8.6" height="3.5" fill="#2b8ccc"/>
<text x="173.3" y="291.2" class="lb">0.26–0.63</text>
<rect x="162.9" y="294.92" width="8.6" height="3.5" fill="#5fa3b8"/>
<text x="173.3" y="298.57" class="lb">0.63–0.90</text>
<rect x="162.9" y="302.29" width="8.6" height="3.5" fill="#8dc0a0"/>
<text x="173.3" y="305.94" class="lb">0.90–1.10</text>
<rect x="162.9" y="309.66" width="8.6" height="3.5" fill="#b3d68c"/>
<text x="173.3" y="313.31" class="lb">1.10–1.23</text>
<rect x="162.9" y="317.03" width="8.6" height="3.5" fill="#e5f07a"/>
<text x="173.3" y="320.68" class="lb">1.23–1.33</text>
<rect x="162.9" y="324.4" width="8.6" height="3.5" fill="#fee150"/>
<text x="173.3" y="328.05" class="lb">1.33–1.43</text>
<rect x="162.9" y="331.77" width="8.6" height="3.5" fill="#fdb044"/>
<text x="173.3" y="335.42" class="lb">1.43–1.57</text>
<rect x="162.9" y="339.14" width="8.6" height="3.5" fill="#f98a34"/>
<text x="173.3" y="342.79" class="lb">1.57–1.76</text>
<rect x="162.9" y="346.51" width="8.6" height="3.5" fill="#f25a1e"/>
<text x="173.3" y="350.16" class="lb">1.76–2.03</text>
<rect x="162.9" y="353.88" width="8.6" height="3.5" fill="#ee1c1c"/>
<text x="173.3" y="357.53" class="lb">2.03–2.41</text>
<rect x="37.3" y="340.9" width="76.7" height="3.6" fill="#000"/>
<rect x="42.09" y="341.5" width="4.79" height="2.4" fill="#fff"/>
<rect x="51.68" y="341.5" width="4.79" height="2.4" fill="#fff"/>
<rect x="75.65" y="341.5" width="19.18" height="2.4" fill="#fff"/>
<text x="37.3" y="349.3" class="sl" text-anchor="middle">0</text>
<text x="46.89" y="349.3" class="sl" text-anchor="middle">4</text>
<text x="56.47" y="349.3" class="sl" text-anchor="middle">8</text>
<text x="75.65" y="349.3" class="sl" text-anchor="middle">16</text>
<text x="94.83" y="349.3" class="sl" text-anchor="middle">24</text>
<text x="114" y="349.3" class="sl" text-anchor="middle">32</text>
<text x="115.5" y="344.5" class="sl">km</text>
<rect x="300.5" y="183" width="240" height="177" fill="#fff" stroke="#c6c6c6" stroke-width="1.6"/>
<g clip-path="url(#c3)">
<rect x="300.5" y="183" width="240" height="177" fill="#e5f07a"/>
<polygon points="300.0,215.0 310.0,212.0 320.0,222.0 328.0,236.0 326.0,246.0 334.0,256.0 344.0,264.0 348.0,272.0 344.0,280.0 334.0,284.0 326.0,290.0 318.0,280.0 310.0,262.0 302.0,245.0" fill="#8dc0a0"/>
<polygon points="322.0,240.0 334.0,238.0 348.0,244.0 362.0,250.0 372.0,256.0 378.0,268.0 374.0,282.0 360.0,286.0 346.0,280.0 334.0,266.0 324.0,254.0" fill="#b3d68c"/>
<polygon points="330.0,258.0 340.0,256.0 348.0,266.0 342.0,274.0 334.0,270.0" fill="#8dc0a0"/>
<polygon points="368.0,214.0 384.0,212.0 400.0,218.0 410.0,228.0 412.0,246.0 404.0,252.0 392.0,248.0 380.0,240.0 370.0,230.0" fill="#b3d68c"/>
<polygon points="334.0,204.0 346.0,200.0 360.0,206.0 368.0,218.0 372.0,232.0 368.0,244.0 358.0,248.0 346.0,244.0 338.0,234.0 334.0,220.0" fill="#fee150"/>
<polygon points="341.0,212.0 350.0,214.0 358.0,222.0 360.0,232.0 352.0,236.0 344.0,228.0" fill="#fdb044"/>
<polygon points="331.0,192.0 340.0,190.0 348.0,194.0 348.0,200.0 338.0,200.0 332.0,198.0" fill="#fdb044"/>
<polygon points="337.0,192.0 341.0,192.0 341.0,196.0 337.0,196.0" fill="#f25a1e"/>
<polygon points="362.0,210.0 367.0,210.0 368.0,219.0 363.0,218.0" fill="#fdb044"/>
<polygon points="362.0,266.0 376.0,262.0 392.0,262.0 408.0,266.0 412.0,280.0 404.0,292.0 388.0,292.0 372.0,290.0 364.0,280.0" fill="#fee150"/>
<polygon points="378.0,242.0 386.0,242.0 390.0,252.0 386.0,256.0 380.0,252.0" fill="#fdb044"/>
<polygon points="330.0,288.0 342.0,284.0 354.0,290.0 356.0,304.0 346.0,310.0 336.0,306.0" fill="#fee150"/>
<polygon points="338.0,306.0 342.0,304.0 342.0,312.0 339.0,313.0" fill="#fdb044"/>
<polygon points="412.0,210.0 425.0,202.0 440.0,200.0 455.0,204.0 466.0,210.0 468.0,228.0 460.0,238.0 446.0,238.0 430.0,234.0 418.0,228.0" fill="#b3d68c"/>
<polygon points="423.0,200.0 432.0,199.0 436.0,208.0 434.0,215.0 426.0,214.0" fill="#8dc0a0"/>
<polygon points="426.0,201.0 431.0,201.0 432.0,207.0 428.0,208.0" fill="#5fa3b8"/>
<polygon points="474.0,207.0 479.0,207.0 480.0,214.0 475.0,215.0" fill="#8dc0a0"/>
<polygon points="400.0,228.0 412.0,230.0 424.0,236.0 426.0,256.0 418.0,268.0 406.0,270.0 400.0,256.0" fill="#b3d68c"/>
<polygon points="446.0,204.0 462.0,204.0 478.0,212.0 486.0,226.0 484.0,244.0 470.0,246.0 456.0,240.0 448.0,226.0" fill="#fee150"/>
<polygon points="484.0,240.0 500.0,238.0 516.0,244.0 520.0,258.0 512.0,270.0 498.0,272.0 486.0,262.0" fill="#fee150"/>
<polygon points="436.0,244.0 448.0,240.0 460.0,244.0 472.0,246.0 484.0,244.0 494.0,248.0 502.0,258.0 506.0,270.0 508.0,282.0 510.0,296.0 504.0,300.0 498.0,290.0 494.0,280.0 488.0,274.0 480.0,270.0 470.0,268.0 458.0,270.0 446.0,272.0 438.0,264.0" fill="#fdb044"/>
<polygon points="442.0,252.0 452.0,250.0 460.0,256.0 458.0,264.0 448.0,266.0 442.0,260.0" fill="#f98a34"/>
<polygon points="486.0,248.0 494.0,250.0 500.0,260.0 500.0,270.0 492.0,270.0 486.0,260.0" fill="#f98a34"/>
<polygon points="499.0,284.0 506.0,282.0 508.0,292.0 502.0,296.0" fill="#f98a34"/>
<polygon points="514.0,246.0 522.0,244.0 528.0,250.0 524.0,258.0 516.0,258.0" fill="#b3d68c"/>
<polygon points="508.0,272.0 515.0,270.0 530.0,276.0 539.0,288.0 530.0,300.0 515.0,306.0 508.0,300.0" fill="#fee150"/>
<polygon points="512.0,278.0 522.0,276.0 530.0,280.0 530.0,290.0 520.0,294.0 512.0,290.0" fill="#b3d68c"/>
<polygon points="512.0,284.0 520.0,282.0 522.0,290.0 514.0,292.0" fill="#8dc0a0"/>
</g>
<polygon points="312.5,322.9 315.0,321.6 316.0,321.1 317.4,322.6 319.4,324.1 322.1,326.3 320.9,327.3 318.4,326.2 315.5,324.8" fill="#fcc040"/>
<polygon points="327.0,292.2 328.8,292.0 329.4,294.5 327.6,294.9" fill="#e5f07a"/>
<polygon points="326.2,296.1 328.0,295.9 328.5,298.4 326.7,298.7" fill="#e5f07a"/>
<text x="367.3" y="198.8" textLength="50.2" lengthAdjust="spacingAndGlyphs" class="t">10-30 cm TN</text>
<text x="526" y="195.2" class="n" text-anchor="middle">N</text>
<polygon points="526,197.4 522.1,210.5 526,206.57" fill="#111"/>
<polyline points="526,197.4 529.9,210.5 526,206.57" fill="none" stroke="#555" stroke-width="0.6"/>
<text x="451.4" y="281.1" class="lg" textLength="16.9" lengthAdjust="spacingAndGlyphs">Legend</text>
<rect x="451.4" y="284.85" width="7.9" height="3.5" fill="#2b8ccc"/>
<text x="461.1" y="288.5" class="lb">1.30–3.46</text>
<rect x="451.4" y="292.5" width="7.9" height="3.5" fill="#5fa3b8"/>
<text x="461.1" y="296.15" class="lb">3.46–5.13</text>
<rect x="451.4" y="300.15" width="7.9" height="3.5" fill="#8dc0a0"/>
<text x="461.1" y="303.8" class="lb">5.13–6.42</text>
<rect x="451.4" y="307.8" width="7.9" height="3.5" fill="#b3d68c"/>
<text x="461.1" y="311.45" class="lb">6.42–7.41</text>
<rect x="451.4" y="315.45" width="7.9" height="3.5" fill="#e5f07a"/>
<text x="461.1" y="319.1" class="lb">7.41–8.69</text>
<rect x="451.4" y="323.1" width="7.9" height="3.5" fill="#fee150"/>
<text x="461.1" y="326.75" class="lb">8.69–10.36</text>
<rect x="451.4" y="330.75" width="7.9" height="3.5" fill="#fdb044"/>
<text x="461.1" y="334.4" class="lb">10.36–12.53</text>
<rect x="451.4" y="338.4" width="7.9" height="3.5" fill="#f98a34"/>
<text x="461.1" y="342.05" class="lb">12.53–15.33</text>
<rect x="451.4" y="346.05" width="7.9" height="3.5" fill="#f25a1e"/>
<text x="461.1" y="349.7" class="lb">15.33–18.97</text>
<rect x="451.4" y="353.7" width="7.9" height="3.5" fill="#ee1c1c"/>
<text x="461.1" y="357.35" class="lb">18.97–23.68</text>
<rect x="330.5" y="340.5" width="76.2" height="3.7" fill="#000"/>
<rect x="335.26" y="341.1" width="4.76" height="2.5" fill="#fff"/>
<rect x="344.79" y="341.1" width="4.76" height="2.5" fill="#fff"/>
<rect x="368.6" y="341.1" width="19.05" height="2.5" fill="#fff"/>
<text x="330.5" y="349.2" class="sl" text-anchor="middle">0</text>
<text x="340.02" y="349.2" class="sl" text-anchor="middle">4</text>
<text x="349.55" y="349.2" class="sl" text-anchor="middle">8</text>
<text x="368.6" y="349.2" class="sl" text-anchor="middle">16</text>
<text x="387.65" y="349.2" class="sl" text-anchor="middle">24</text>
<text x="406.7" y="349.2" class="sl" text-anchor="middle">32</text>
<text x="408.2" y="344.2" class="sl">km</text>
<rect x="5.5" y="364" width="248.5" height="167" fill="#fff" stroke="#c6c6c6" stroke-width="1.6"/>
<g clip-path="url(#c4)">
<rect x="5.5" y="364" width="248.5" height="167" fill="#f98a34"/>
<polygon points="3.0,405.0 8.0,408.0 15.0,416.0 22.0,424.0 29.0,431.0 36.0,437.0 42.0,443.0 42.0,452.0 36.0,460.0 30.0,458.0 20.0,444.0 10.0,428.0 3.0,418.0" fill="#f25a1e"/>
<polygon points="26.0,380.0 36.0,374.0 48.0,374.0 58.0,382.0 66.0,392.0 68.0,404.0 62.0,410.0 54.0,406.0 46.0,398.0 38.0,392.0 30.0,392.0" fill="#fdb044"/>
<polygon points="34.0,378.0 42.0,374.0 50.0,378.0 54.0,388.0 48.0,392.0 38.0,390.0" fill="#fee150"/>
<polygon points="35.0,372.0 41.0,370.0 44.0,376.0 40.0,380.0 35.0,378.0" fill="#e5f07a"/>
<polygon points="58.0,398.0 66.0,398.0 72.0,408.0 70.0,418.0 62.0,414.0" fill="#fdb044"/>
<polygon points="56.0,438.0 68.0,436.0 80.0,440.0 95.0,438.0 110.0,444.0 118.0,455.0 112.0,468.0 100.0,470.0 85.0,468.0 70.0,466.0 58.0,458.0" fill="#fdb044"/>
<polygon points="90.0,410.0 100.0,408.0 108.0,416.0 110.0,428.0 104.0,434.0 96.0,428.0 92.0,420.0" fill="#fdb044"/>
<polygon points="36.0,470.0 46.0,468.0 56.0,470.0 62.0,478.0 58.0,488.0 50.0,494.0 42.0,490.0 38.0,480.0" fill="#fee150"/>
<polygon points="82.0,467.0 90.0,466.0 93.0,472.0 88.0,477.0 83.0,474.0" fill="#b3d68c"/>
<polygon points="112.0,450.0 120.0,450.0 127.0,453.0 124.0,458.0 114.0,458.0" fill="#e5f07a"/>
<polygon points="115.0,440.0 126.0,438.0 131.0,446.0 130.0,456.0 120.0,458.0 115.0,452.0" fill="#fee150"/>
<polygon points="115.0,421.0 128.0,420.0 138.0,422.0 143.0,432.0 140.0,446.0 132.0,456.0 124.0,458.0 116.0,452.0" fill="#fdb044"/>
<polygon points="136.0,428.0 146.0,426.0 156.0,430.0 158.0,440.0 152.0,450.0 140.0,450.0" fill="#fdb044"/>
<polygon points="150.0,385.0 165.0,384.0 178.0,386.0 186.0,394.0 182.0,402.0 168.0,402.0 156.0,400.0 150.0,394.0" fill="#fdb044"/>
<polygon points="150.0,382.0 160.0,380.0 170.0,383.0 166.0,390.0 154.0,390.0" fill="#fee150"/>
<polygon points="163.0,424.0 172.0,421.0 182.0,422.0 192.0,428.0 200.0,436.0 202.0,444.0 196.0,446.0 188.0,442.0 178.0,442.0 168.0,440.0 164.0,432.0" fill="#f25a1e"/>
<polygon points="184.0,392.0 188.0,392.0 189.0,398.0 185.0,399.0" fill="#f25a1e"/>
<polygon points="196.0,421.0 206.0,420.0 216.0,424.0 217.0,440.0 210.0,446.0 200.0,444.0" fill="#fdb044"/>
<polygon points="210.0,426.0 222.0,424.0 234.0,425.0 244.0,428.0 242.0,440.0 234.0,446.0 222.0,446.0 214.0,440.0" fill="#e5f07a"/>
<polygon points="216.0,432.0 228.0,432.0 236.0,436.0 230.0,444.0 220.0,444.0" fill="#fee150"/>
<polygon points="220.0,428.0 225.0,428.0 225.0,432.0 220.0,432.0" fill="#8dc0a0"/>
<polygon points="222.0,456.0 230.0,454.0 236.0,460.0 234.0,478.0 228.0,488.0 222.0,486.0 222.0,470.0" fill="#fee150"/>
<polygon points="214.0,483.0 222.0,476.0 229.0,480.0 225.0,490.0 217.0,492.0" fill="#fee150"/>
<polygon points="229.0,461.0 240.0,459.0 250.0,464.0 253.0,472.0 246.0,479.0 236.0,480.0 230.0,474.0" fill="#b3d68c"/>
</g>
<polygon points="14.2,504.9 16.8,503.6 17.8,503.2 19.4,504.6 21.4,506.1 24.3,508.2 23.0,509.3 20.4,508.1 17.3,506.8" fill="#4f9cb4"/>
<polygon points="29.5,474.8 31.3,474.6 31.9,477.0 30.1,477.4" fill="#f98a34"/>
<polygon points="28.7,478.6 30.5,478.4 31.0,480.9 29.2,481.2" fill="#f98a34"/>
<text x="74.9" y="378.8" textLength="50" lengthAdjust="spacingAndGlyphs" class="t">0-10 cm C/N</text>
<text x="236.45" y="375.6" class="n" text-anchor="middle">N</text>
<polygon points="236.45,377.1 232.2,389.9 236.45,386.06" fill="#111"/>
<polyline points="236.45,377.1 240.7,389.9 236.45,386.06" fill="none" stroke="#555" stroke-width="0.6"/>
<text x="161.9" y="461.3" class="lg" textLength="17.9" lengthAdjust="spacingAndGlyphs">Legend</text>
<rect x="161.9" y="464.45" width="8.5" height="3.5" fill="#2b8ccc"/>
<text x="172.2" y="468.1" class="lb">7.70–9.80</text>
<rect x="161.9" y="471.33" width="8.5" height="3.5" fill="#5fa3b8"/>
<text x="172.2" y="474.98" class="lb">9.80–11.26</text>
<rect x="161.9" y="478.21" width="8.5" height="3.5" fill="#8dc0a0"/>
<text x="172.2" y="481.86" class="lb">11.26–12.28</text>
<rect x="161.9" y="485.09" width="8.5" height="3.5" fill="#b3d68c"/>
<text x="172.2" y="488.74" class="lb">12.28–13.00</text>
<rect x="161.9" y="491.97" width="8.5" height="3.5" fill="#e5f07a"/>
<text x="172.2" y="495.62" class="lb">13.00–13.49</text>
<rect x="161.9" y="498.85" width="8.5" height="3.5" fill="#fee150"/>
<text x="172.2" y="502.5" class="lb">13.49–13.99</text>
<rect x="161.9" y="505.73" width="8.5" height="3.5" fill="#fdb044"/>
<text x="172.2" y="509.38" class="lb">13.99–14.71</text>
<rect x="161.9" y="512.61" width="8.5" height="3.5" fill="#f98a34"/>
<text x="172.2" y="516.26" class="lb">14.71–15.73</text>
<rect x="161.9" y="519.49" width="8.5" height="3.5" fill="#f25a1e"/>
<text x="172.2" y="523.14" class="lb">15.73–17.19</text>
<rect x="161.9" y="526.37" width="8.5" height="3.5" fill="#ee1c1c"/>
<text x="172.2" y="530.02" class="lb">17.19–19.29</text>
<rect x="38.5" y="513" width="77" height="3.6" fill="#000"/>
<rect x="43.31" y="513.6" width="4.81" height="2.4" fill="#fff"/>
<rect x="52.94" y="513.6" width="4.81" height="2.4" fill="#fff"/>
<rect x="77" y="513.6" width="19.25" height="2.4" fill="#fff"/>
<text x="38.5" y="521.6" class="sl" text-anchor="middle">0</text>
<text x="48.12" y="521.6" class="sl" text-anchor="middle">4</text>
<text x="57.75" y="521.6" class="sl" text-anchor="middle">8</text>
<text x="77" y="521.6" class="sl" text-anchor="middle">16</text>
<text x="96.25" y="521.6" class="sl" text-anchor="middle">24</text>
<text x="115.5" y="521.6" class="sl" text-anchor="middle">32</text>
<text x="117" y="516.6" class="sl">km</text>
<rect x="295.5" y="367" width="249.5" height="162" fill="#fff" stroke="#c6c6c6" stroke-width="1.6"/>
<g clip-path="url(#c5)">
<rect x="295.5" y="367" width="249.5" height="162" fill="#f98a34"/>
<polygon points="328.0,376.0 336.0,372.0 346.0,376.0 356.0,384.0 362.0,392.0 360.0,398.0 350.0,394.0 340.0,390.0 332.0,386.0" fill="#fdb044"/>
<polygon points="340.0,374.0 346.0,372.0 352.0,380.0 348.0,384.0 342.0,380.0" fill="#fee150"/>
<polygon points="325.0,404.0 334.0,400.0 344.0,404.0 350.0,414.0 350.0,428.0 344.0,436.0 334.0,434.0 328.0,424.0" fill="#fdb044"/>
<polygon points="318.0,434.0 330.0,432.0 342.0,434.0 351.0,431.0 360.0,431.0 368.0,440.0 380.0,444.0 387.0,434.0 382.0,422.0 383.0,409.0 396.0,405.0 410.0,410.0 418.0,420.0 420.0,432.0 418.0,444.0 408.0,452.0 396.0,456.0 380.0,456.0 366.0,454.0 350.0,454.0 334.0,454.0 320.0,448.0" fill="#fdb044"/>
<polygon points="329.0,456.0 340.0,454.0 350.0,456.0 352.0,468.0 350.0,480.0 342.0,486.0 334.0,482.0 330.0,470.0" fill="#fee150"/>
<polygon points="333.0,472.0 342.0,470.0 350.0,474.0 346.0,484.0 338.0,486.0" fill="#e5f07a"/>
<polygon points="366.0,448.0 380.0,448.0 396.0,450.0 400.0,460.0 392.0,466.0 378.0,466.0 368.0,462.0" fill="#fee150"/>
<polygon points="376.0,458.0 384.0,458.0 387.0,466.0 380.0,468.0" fill="#e5f07a"/>
<polygon points="415.0,392.0 430.0,388.0 445.0,390.0 460.0,398.0 470.0,412.0 480.0,422.0 484.0,436.0 480.0,448.0 468.0,452.0 452.0,452.0 436.0,448.0 420.0,444.0 412.0,430.0 410.0,410.0" fill="#fdb044"/>
<polygon points="420.0,383.0 430.0,381.0 438.0,388.0 438.0,400.0 430.0,404.0 422.0,398.0" fill="#f98a34"/>
<polygon points="440.0,403.0 448.0,403.0 451.0,412.0 446.0,416.0 440.0,412.0" fill="#f98a34"/>
<polygon points="456.0,408.0 462.0,408.0 464.0,416.0 458.0,418.0" fill="#f98a34"/>
<polygon points="456.0,423.0 466.0,422.0 471.0,428.0 468.0,434.0 458.0,434.0" fill="#f98a34"/>
<polygon points="416.0,446.0 428.0,444.0 438.0,448.0 436.0,456.0 424.0,456.0 416.0,452.0" fill="#f98a34"/>
<polygon points="415.0,421.0 426.0,420.0 436.0,424.0 434.0,436.0 424.0,438.0 416.0,432.0" fill="#fee150"/>
<polygon points="440.0,386.0 452.0,380.0 466.0,384.0 478.0,390.0 482.0,402.0 484.0,414.0 478.0,422.0 468.0,418.0 460.0,408.0 450.0,400.0 442.0,394.0" fill="#e5f07a"/>
<polygon points="456.0,394.0 466.0,392.0 474.0,400.0 482.0,414.0 484.0,426.0 476.0,428.0 468.0,418.0 460.0,406.0" fill="#fee150"/>
<polygon points="478.0,420.0 490.0,418.0 500.0,424.0 506.0,436.0 504.0,448.0 496.0,452.0 486.0,444.0 480.0,432.0" fill="#fee150"/>
<polygon points="486.0,421.0 498.0,419.0 510.0,420.0 522.0,424.0 524.0,436.0 516.0,440.0 504.0,438.0 494.0,436.0 488.0,430.0" fill="#b3d68c"/>
<polygon points="514.0,424.0 524.0,420.0 533.0,422.0 532.0,432.0 526.0,440.0 516.0,438.0" fill="#8dc0a0"/>
<polygon points="496.0,446.0 504.0,444.0 510.0,452.0 514.0,466.0 514.0,480.0 508.0,482.0 502.0,470.0 498.0,458.0" fill="#fdb044"/>
<polygon points="501.0,458.0 510.0,456.0 516.0,464.0 514.0,474.0 506.0,476.0 502.0,468.0" fill="#f98a34"/>
<polygon points="511.0,451.0 524.0,449.0 536.0,454.0 546.0,462.0 538.0,470.0 526.0,474.0 514.0,472.0 511.0,464.0" fill="#e5f07a"/>
<polygon points="530.0,460.0 538.0,457.0 546.0,462.0 540.0,468.0 532.0,470.0" fill="#fee150"/>
<polygon points="518.0,454.0 528.0,452.0 534.0,458.0 530.0,466.0 520.0,466.0" fill="#b3d68c"/>
</g>
<polygon points="308.2,494.7 310.7,493.5 311.7,493.1 313.3,494.4 315.3,495.8 318.1,497.8 316.8,498.7 314.3,497.7 311.2,496.5" fill="#d4e676"/>
<polygon points="323.2,466.7 325.1,466.5 325.7,468.8 323.8,469.1" fill="#fdb044"/>
<polygon points="322.4,470.3 324.2,470.1 324.8,472.3 322.9,472.6" fill="#fdb044"/>
<text x="365.5" y="381.4" textLength="55.7" lengthAdjust="spacingAndGlyphs" class="t">10-30 cm C/N</text>
<text x="530.25" y="378.5" class="n" text-anchor="middle">N</text>
<polygon points="530.25,379.7 526.1,392.2 530.25,388.45" fill="#111"/>
<polyline points="530.25,379.7 534.6,392.2 530.25,388.45" fill="none" stroke="#555" stroke-width="0.6"/>
<text x="451.9" y="457.9" class="lg" textLength="18.3" lengthAdjust="spacingAndGlyphs">Legend</text>
<rect x="451.9" y="460.35" width="8.5" height="3.5" fill="#2b8ccc"/>
<text x="462.2" y="464" class="lb">5.29–8.03</text>
<rect x="451.9" y="467.27" width="8.5" height="3.5" fill="#5fa3b8"/>
<text x="462.2" y="470.92" class="lb">8.03–9.94</text>
<rect x="451.9" y="474.19" width="8.5" height="3.5" fill="#8dc0a0"/>
<text x="462.2" y="477.84" class="lb">9.94–11.29</text>
<rect x="451.9" y="481.11" width="8.5" height="3.5" fill="#b3d68c"/>
<text x="462.2" y="484.76" class="lb">11.29–12.21</text>
<rect x="451.9" y="488.03" width="8.5" height="3.5" fill="#e5f07a"/>
<text x="462.2" y="491.68" class="lb">12.21–12.86</text>
<rect x="451.9" y="494.95" width="8.5" height="3.5" fill="#fee150"/>
<text x="462.2" y="498.6" class="lb">12.86–13.51</text>
<rect x="451.9" y="501.87" width="8.5" height="3.5" fill="#fdb044"/>
<text x="462.2" y="505.52" class="lb">13.51–14.44</text>
<rect x="451.9" y="508.79" width="8.5" height="3.5" fill="#f98a34"/>
<text x="462.2" y="512.44" class="lb">14.44–15.78</text>
<rect x="451.9" y="515.71" width="8.5" height="3.5" fill="#f25a1e"/>
<text x="462.2" y="519.36" class="lb">15.78–17.69</text>
<rect x="451.9" y="522.63" width="8.5" height="3.5" fill="#ee1c1c"/>
<text x="462.2" y="526.28" class="lb">17.69–20.44</text>
<rect x="327.3" y="511.5" width="79.1" height="3.2" fill="#000"/>
<rect x="332.24" y="512.1" width="4.94" height="2" fill="#fff"/>
<rect x="342.13" y="512.1" width="4.94" height="2" fill="#fff"/>
<rect x="366.85" y="512.1" width="19.77" height="2" fill="#fff"/>
<text x="327.3" y="519.6" class="sl" text-anchor="middle">0</text>
<text x="337.19" y="519.6" class="sl" text-anchor="middle">4</text>
<text x="347.07" y="519.6" class="sl" text-anchor="middle">8</text>
<text x="366.85" y="519.6" class="sl" text-anchor="middle">16</text>
<text x="386.62" y="519.6" class="sl" text-anchor="middle">24</text>
<text x="406.4" y="519.6" class="sl" text-anchor="middle">32</text>
<text x="407.9" y="514.7" class="sl">km</text>
</svg>
</body></html>
